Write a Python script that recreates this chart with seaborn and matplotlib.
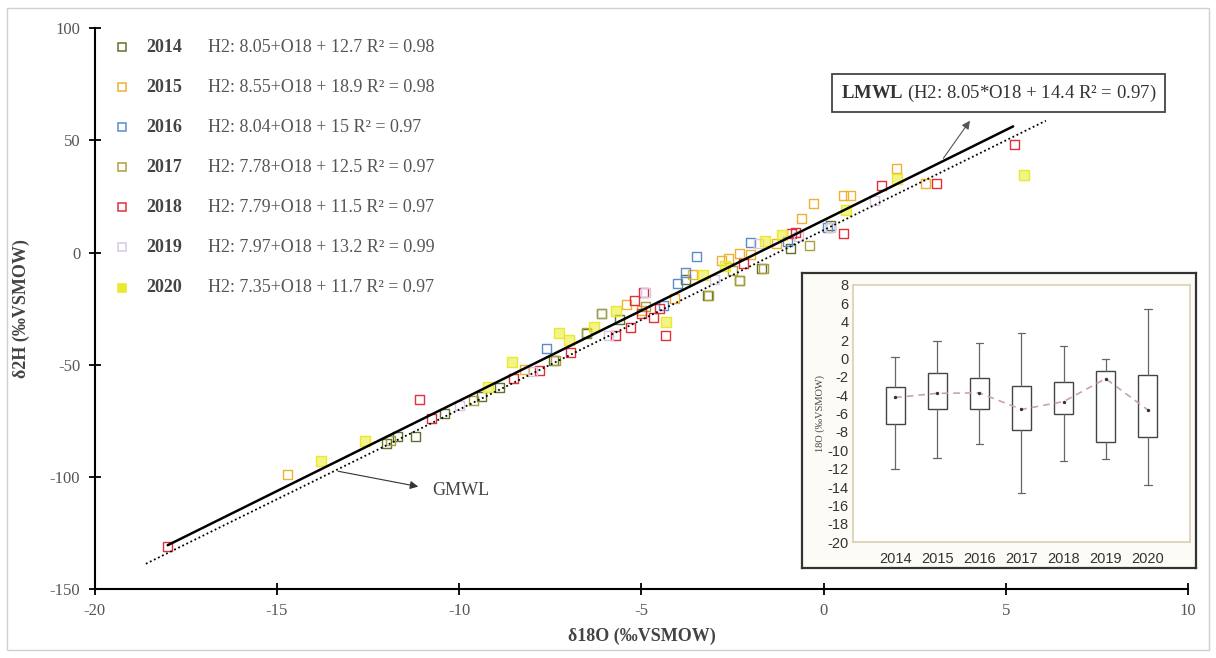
import numpy as np
import pandas as pd
import matplotlib
matplotlib.use("Agg")
import matplotlib.pyplot as plt
import matplotlib.patches as patches
import seaborn as sns

sns.set_theme(style="white")
plt.rcParams["font.family"] = ["Liberation Serif", "DejaVu Serif"]
plt.rcParams["mathtext.fontset"] = "custom"
plt.rcParams["mathtext.rm"] = "Liberation Serif"
plt.rcParams["mathtext.bf"] = "Liberation Serif:bold"
plt.rcParams["axes.unicode_minus"] = False

# --- scatter data (d18O, d2H) per year ---
years = ["2014", "2015", "2016", "2017", "2018", "2019", "2020"]
colors = ["#5e7330", "#f0b030", "#5a8ccc", "#ad9f3c", "#e2303a", "#d8c6e2", "#eaea2a"]
equations = [
    "H2: 8.05+O18 + 12.7 R\u00b2 = 0.98",
    "H2: 8.55+O18 + 18.9 R\u00b2 = 0.98",
    "H2: 8.04+O18 + 15 R\u00b2 = 0.97",
    "H2: 7.78+O18 + 12.5 R\u00b2 = 0.97",
    "H2: 7.79+O18 + 11.5 R\u00b2 = 0.97",
    "H2: 7.97+O18 + 13.2 R\u00b2 = 0.99",
    "H2: 7.35+O18 + 11.7 R\u00b2 = 0.97",
]

o18_2014 = [-12.0, -11.7, -11.2, -10.4, -9.4, -8.9, -7.4, -6.5, -5.6, -3.8, -3.2, -2.3, -1.7, -0.9, 0.2]
h2_2014 = [-85, -82, -82, -72, -64, -60, -48, -36, -30, -12, -19, -12.5, -7, 2, 12]
o18_2015 = [-14.7, -8.2, -5.4, -4.1, -2.8, -2.6, -2.3, -1.3, -0.6, -0.27, 0.55, 0.75, 2.0, 2.8,
            -5.0, -3.6, -2.0]
h2_2015 = [-99, -52, -23, -20.6, -3.6, -2.7, -0.5, 4, 15, 22, 25.4, 25.4, 37.5, 31,
           -26, -10, -1]
o18_2016 = [-7.6, -6.1, -4.4, -4.0, -3.8, -3.5, -2.0, -1.0, 0.1]
h2_2016 = [-43, -27, -23.7, -14, -9, -1.8, 4.5, 5, 11]
o18_2017 = [-11.9, -9.6, -7.35, -6.5, -6.1, -4.9, -3.16, -2.5, -2.3, -1.65, -0.4]
h2_2017 = [-84, -66, -48, -35.7, -27, -24, -19, -8, -12.5, -7, 3]
o18_2018 = [-18.0, -11.1, -10.75, -8.5, -7.8, -6.94, -5.7, -5.3, -5.2, -4.94, -4.66, -4.33,
            -2.2, -0.88, -0.77, 0.55, 1.6, 3.1, 5.25, -5.0, -4.5]
h2_2018 = [-131, -65.6, -74, -56, -52.7, -44.6, -37, -33.5, -21.4, -18, -29, -37,
           -5, 8.5, 9, 8.5, 30, 31, 48, -27, -25]
o18_2019 = [-10.0, -8.0, -5.9, -4.9, -3.0, -1.8, -0.7, 0.2, 1.4]
h2_2019 = [-68, -53, -37, -18, -12, 4, 7, 11, 23]
o18_2020 = [-13.8, -12.6, -9.2, -8.56, -7.27, -7.0, -5.7, -4.33, -3.3, -1.6, -1.15, 0.6, 2.0, 5.5,
            -6.3, -2.7]
h2_2020 = [-93, -84, -60, -49, -36, -39, -26, -31, -10, 5, 7.6, 19, 33, 34.5,
           -33, -6]

o18_all = [o18_2014, o18_2015, o18_2016, o18_2017, o18_2018, o18_2019, o18_2020]
h2_all = [h2_2014, h2_2015, h2_2016, h2_2017, h2_2018, h2_2019, h2_2020]

# meteoric water lines: (slope, intercept, x range)
lmwl = (8.05, 14.4, [-18.0, 5.2])
gmwl = (8.0, 10.0, [-18.6, 6.1])

# --- inset boxplot stats of d18O per year ---
box_whislo = [-12.0, -10.8, -9.35, -14.7, -11.2, -11.0, -13.8]
box_q1 = [-7.1, -5.5, -5.55, -7.8, -6.1, -9.1, -8.6]
box_q3 = [-3.15, -1.6, -2.1, -2.95, -2.55, -1.4, -1.85]
box_whishi = [0.2, 1.9, 1.7, 2.8, 1.4, -0.1, 5.4]
box_mean = [-4.25, -3.8, -3.75, -5.55, -4.7, -2.2, -5.6]

df = pd.concat([pd.DataFrame({"o18": o, "h2": h, "year": y})
                for o, h, y in zip(o18_all, h2_all, years)], ignore_index=True)
palette = dict(zip(years, colors))

fig = plt.figure(figsize=(12.16, 6.58), dpi=100)
fig.patches.append(patches.Rectangle((0.006, 0.012), 0.988, 0.976, transform=fig.transFigure,
                                     fill=False, edgecolor="#d0d0d0", lw=1))

ax = fig.add_axes([0.078, 0.105, 0.899, 0.852])

# lines
for (m, b, xr), ls, lw in [(gmwl, (0, (1, 1.5)), 1.3), (lmwl, "-", 1.8)]:
    xs = np.array(xr)
    sns.lineplot(x=xs, y=m * xs + b, ax=ax, color="black", linestyle=ls, lw=lw, zorder=3)

# points
for yr in years:
    sub = df[df["year"] == yr]
    sns.scatterplot(data=sub, x="o18", y="h2", ax=ax, marker="s", s=42, legend=False,
                    color=palette[yr], zorder=2)
    coll = ax.collections[-1]
    coll.set_edgecolor(palette[yr])
    coll.set_linewidth(1.0)
    if yr == "2020":
        coll.set_facecolor(matplotlib.colors.to_rgba(palette[yr], 0.55))
    else:
        coll.set_facecolor("none")

ax.set_xlim(-20, 10)
ax.set_ylim(-150, 100)
ax.set_xticks([-20, -15, -10, -5, 0, 5, 10])
ax.set_yticks([-150, -100, -50, 0, 50, 100])
for s in ["top", "right"]:
    ax.spines[s].set_visible(False)
for s in ["left", "bottom"]:
    ax.spines[s].set_color("black")
    ax.spines[s].set_linewidth(1.5)
ax.tick_params(direction="inout", length=9, width=1.3, color="black", labelcolor="#555555",
               labelsize=12, pad=6, left=True, bottom=True)
ax.set_xlabel("\u03b418O (\u2030VSMOW)", fontsize=13, fontweight="bold", color="#444444", labelpad=6)
ax.set_ylabel("\u03b42H (\u2030VSMOW)", fontsize=13, fontweight="bold", color="#444444", labelpad=14)

# custom legend
for i, (yr, eq) in enumerate(zip(years, equations)):
    yy = 91.5 - i * 17.85
    ax.plot([-19.25], [yy], marker="s", ms=5.5, mew=1.1, color=palette[yr],
            mfc=(palette[yr] if yr == "2020" else "none"), ls="none")
    ax.text(-18.6, yy, yr, fontsize=13, fontweight="bold", color="#444444", va="center")
    ax.text(-16.9, yy, eq, fontsize=13, color="#555555", va="center")

# annotations
ax.annotate("", xy=(4.06, 59.8), xytext=(3.24, 41),
            arrowprops=dict(arrowstyle="-|>", color="#555555", lw=0.8, mutation_scale=12))
ax.text(4.8, 71, r"$\mathbf{LMWL}$ (H2: 8.05*O18 + 14.4 R" + "\u00b2 = 0.97)", fontsize=13.5,
        color="#333333", ha="center", va="center",
        bbox=dict(boxstyle="square,pad=0.45", fc="white", ec="#444444", lw=1.3))
ax.annotate("", xy=(-11.05, -104.6), xytext=(-13.4, -97.3),
            arrowprops=dict(arrowstyle="-|>", color="#333333", lw=0.8, mutation_scale=12))
ax.text(-10.75, -106, "GMWL", fontsize=13, color="#444444", va="center")

# inset frame
frame = fig.add_axes([0.6595, 0.1368, 0.324, 0.448])
frame.set_xticks([])
frame.set_yticks([])
frame.set_facecolor("#fcfbf5")
for s in frame.spines.values():
    s.set_color("#333333")
    s.set_linewidth(1.6)

axin = fig.add_axes([0.7015, 0.176, 0.277, 0.391])
pos = np.arange(len(years))
stats = [dict(med=q1, q1=q1, q3=q3, whislo=lo, whishi=hi, mean=mn, fliers=[])
         for q1, q3, lo, hi, mn in zip(box_q1, box_q3, box_whislo, box_whishi, box_mean)]
axin.bxp(stats, positions=pos, widths=0.45, showmeans=False, patch_artist=True,
         boxprops=dict(facecolor="white", edgecolor="#444444", lw=1.0),
         whiskerprops=dict(color="#666666", lw=0.9),
         capprops=dict(color="#666666", lw=0.9), capwidths=0.18,
         medianprops=dict(lw=0))
sns.lineplot(x=pos, y=box_mean, ax=axin, color="#c9a2ae", linestyle=(0, (4, 3)), lw=1.2, zorder=3)
sns.scatterplot(x=pos, y=box_mean, ax=axin, color="#333333", marker="o", s=6, linewidth=0, zorder=4)
axin.set_xlim(-1, 7)
axin.set_ylim(-20, 8)
axin.set_yticks(np.arange(-20, 9, 2))
axin.set_xticks(pos)
axin.set_xticklabels(years)
axin.tick_params(axis="both", length=0, labelsize=10.5, labelcolor="#333333", pad=3)
for lbl in axin.get_xticklabels() + axin.get_yticklabels():
    lbl.set_fontfamily(["Liberation Sans", "DejaVu Sans"])
axin.tick_params(axis="x", pad=7)
axin.set_ylabel("18O (\u2030VSMOW)", fontsize=7.5, color="#444444", labelpad=2)
axin.set_facecolor("white")
for s in axin.spines.values():
    s.set_color("#d9d0b4")
    s.set_linewidth(1.2)

fig.savefig("out.png", dpi=100)
